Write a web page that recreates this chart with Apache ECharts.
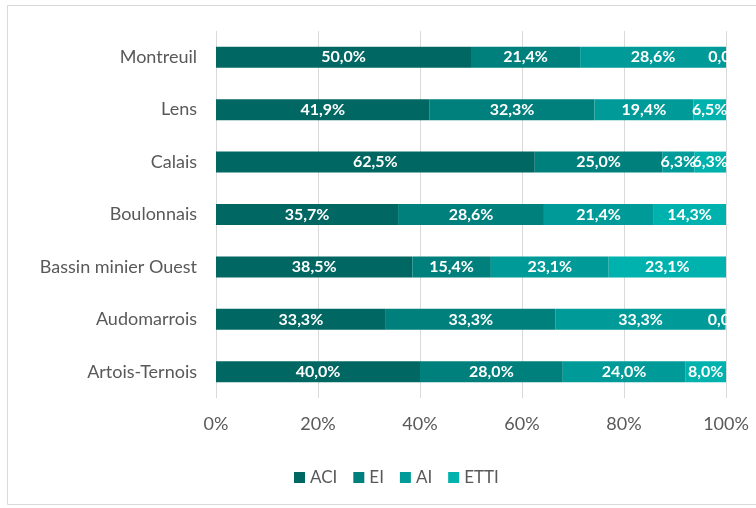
<!DOCTYPE html>
<html>
<head>
<meta charset="utf-8">
<script src="https://cdn.jsdelivr.net/npm/echarts@6/dist/echarts.min.js"></script>
<style>
  html, body { margin: 0; padding: 0; background: #fff; }
  #chart { width: 756px; height: 508px; }
</style>
</head>
<body>
<div id="chart"></div>
<script>
// territoires, du bas vers le haut
const categories = ['Artois-Ternois', 'Audomarrois', 'Bassin minier Ouest', 'Boulonnais', 'Calais', 'Lens', 'Montreuil']
const aciData = [40.0, 33.3, 38.5, 35.7, 62.5, 41.9, 50.0]
const eiData = [28.0, 33.3, 15.4, 28.6, 25.0, 32.3, 21.4]
const aiData = [24.0, 33.3, 23.1, 21.4, 6.3, 19.4, 28.6]
const ettiData = [8.0, 0.0, 23.1, 14.3, 6.3, 6.5, 0.0]
const xTicks = [0, 20, 40, 60, 80, 100]

const font = 'Lato, "Open Sans", sans-serif'
const textColor = '#595959'
const gridColor = '#d9d9d9'

function makeSeries(name, data, color) {
  return {
    name: name,
    type: 'bar',
    stack: 'total',
    barWidth: 21,
    itemStyle: { color: color },
    label: {
      show: true,
      position: 'inside',
      color: '#fff',
      fontWeight: 'bold',
      fontSize: 16,
      fontFamily: font,
      formatter: p => p.value.toFixed(1).replace('.', ',') + '%'
    },
    data: data
  }
}

const chart = echarts.init(document.getElementById('chart'))
chart.setOption({
  animation: false,
  textStyle: { fontFamily: font },
  graphic: [
    {
      type: 'rect',
      z: -10,
      shape: { x: 7.5, y: 5.5, width: 800, height: 499 },
      style: { fill: 'none', stroke: gridColor, lineWidth: 1 }
    },
    {
      // coupe les étiquettes qui dépassent 100%
      type: 'rect',
      z: 100,
      shape: { x: 727, y: 30, width: 28, height: 370 },
      style: { fill: '#fff' }
    }
  ],
  legend: {
    data: ['ACI', 'EI', 'AI', 'ETTI'],
    left: 289,
    top: 464,
    icon: 'rect',
    itemWidth: 11,
    itemHeight: 11,
    itemGap: 16,
    textStyle: { color: textColor, fontSize: 17, fontFamily: font }
  },
  grid: {
    left: 216,
    right: 30,
    top: 31,
    bottom: 110
  },
  xAxis: {
    type: 'value',
    min: xTicks[0],
    max: xTicks[xTicks.length - 1],
    interval: 20,
    axisLine: { show: false },
    axisTick: { show: false },
    axisLabel: {
      color: textColor,
      fontSize: 18,
      margin: 17,
      formatter: '{value}%'
    },
    splitLine: { lineStyle: { color: gridColor } }
  },
  yAxis: {
    type: 'category',
    data: categories,
    axisLine: { show: false },
    axisTick: { show: false },
    axisLabel: {
      color: textColor,
      fontSize: 18,
      margin: 19
    }
  },
  series: [
    makeSeries('ACI', aciData, '#006762'),
    makeSeries('EI', eiData, '#00807c'),
    makeSeries('AI', aiData, '#009b98'),
    makeSeries('ETTI', ettiData, '#00b2ad')
  ]
})
</script>
</body>
</html>
